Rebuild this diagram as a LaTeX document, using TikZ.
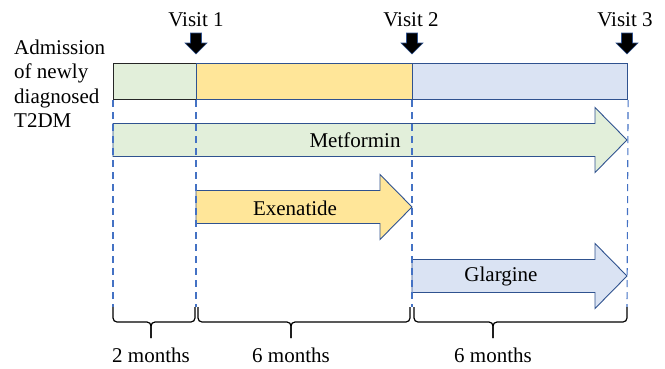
\documentclass[tikz,border=0pt]{standalone}
\usepackage{fontspec}
\setmainfont{Liberation Serif}
\usetikzlibrary{calc}
\definecolor{gfill}{HTML}{E2EFDA}
\definecolor{yfill}{HTML}{FFE699}
\definecolor{bfill}{HTML}{DAE3F3}
\definecolor{edgecol}{HTML}{2F528F}
\definecolor{dashcol}{HTML}{4472C4}
\newcommand{\drugarrow}[4]{% x1, x2, yc, fill
  \draw[drugarrow, fill=#4] (#1,#3-16.5) -- (#2-32,#3-16.5) -- (#2-32,#3-32.5) -- (#2,#3)
    -- (#2-32,#3+32.5) -- (#2-32,#3+16.5) -- (#1,#3+16.5) -- cycle;}
\newcommand{\visitarrow}[1]{%
  \draw[visitarr] (#1-5.5,33) -- (#1+5.5,33) -- (#1+5.5,43) -- (#1+11,43) -- (#1,54)
    -- (#1-11,43) -- (#1-5.5,43) -- cycle;}
\begin{document}
\begin{tikzpicture}[x=1pt,y=-1pt,
  font=\fontsize{21}{24.5}\selectfont,
  segbox/.style={draw=edgecol, line width=1.1pt, minimum height=36pt, inner sep=0pt, anchor=north west},
  drugarrow/.style={draw=edgecol, line width=0.9pt, line join=miter},
  guide/.style={draw=dashcol, line width=1.1pt, dash pattern=on 7pt off 5pt},
  visitarr/.style={fill=black, draw=edgecol, line width=0.6pt},
  bracepath/.style={draw=black, line width=1.2pt, rounded corners=4pt},
  lbl/.style={inner sep=0pt}]
\useasboundingbox (0,0) rectangle (665,368);

% timeline bar
\node[segbox, fill=gfill, draw=black!85, minimum width=83pt] (seg1) at (113,63) {};
\node[segbox, fill=yfill, minimum width=216pt] (seg2) at (196,63) {};
\node[segbox, fill=bfill, minimum width=215pt] (seg3) at (412,63) {};

% admission text
\node[lbl, anchor=north west, align=left] (adm) at (14,39.5) {Admission\\of newly\\diagnosed\\T2DM};

% visits
\node[lbl, anchor=base] (v1) at (196,26) {Visit 1};
\node[lbl, anchor=base] (v2) at (411,26) {Visit 2};
\node[lbl, anchor=base] (v3) at (625,26) {Visit 3};
\visitarrow{196}
\visitarrow{412}
\visitarrow{627}

% drug arrows
\drugarrow{113}{627}{140}{gfill}
\node[lbl] (met) at (355,140) {Metformin};
\drugarrow{196}{412}{207}{yfill}
\node[lbl] (exe) at (295,208) {Exenatide};
\drugarrow{412}{627}{276}{bfill}
\node[lbl] (gla) at (501,276) {Glargine};

% guide lines
\coordinate (g0) at (113,307);
\coordinate (g1) at (196,307);
\coordinate (g2) at (412,307);
\coordinate (g3) at (627,307);
\draw[guide] (seg1.south west) -- (g0);
\draw[guide] (seg2.south west) -- (g1);
\draw[guide] (seg3.south west) -- (g2);
\draw[guide] (seg3.south east) -- (g3);

% braces
\draw[bracepath] (113,307) -- (113,322) -- (151,322) -- (151,338);
\draw[bracepath] (151,338) -- (151,322) -- (195,322) -- (195,307);
\draw[bracepath] (198,307) -- (198,322) -- (291,322) -- (291,338);
\draw[bracepath] (291,338) -- (291,322) -- (410,322) -- (410,307);
\draw[bracepath] (414,307) -- (414,322) -- (493,322) -- (493,338);
\draw[bracepath] (493,338) -- (493,322) -- (627,322) -- (627,307);

\node[lbl, anchor=base] (m1) at (151,362) {2 months};
\node[lbl, anchor=base] (m2) at (291,362) {6 months};
\node[lbl, anchor=base] (m3) at (493,362) {6 months};
\end{tikzpicture}
\end{document}
